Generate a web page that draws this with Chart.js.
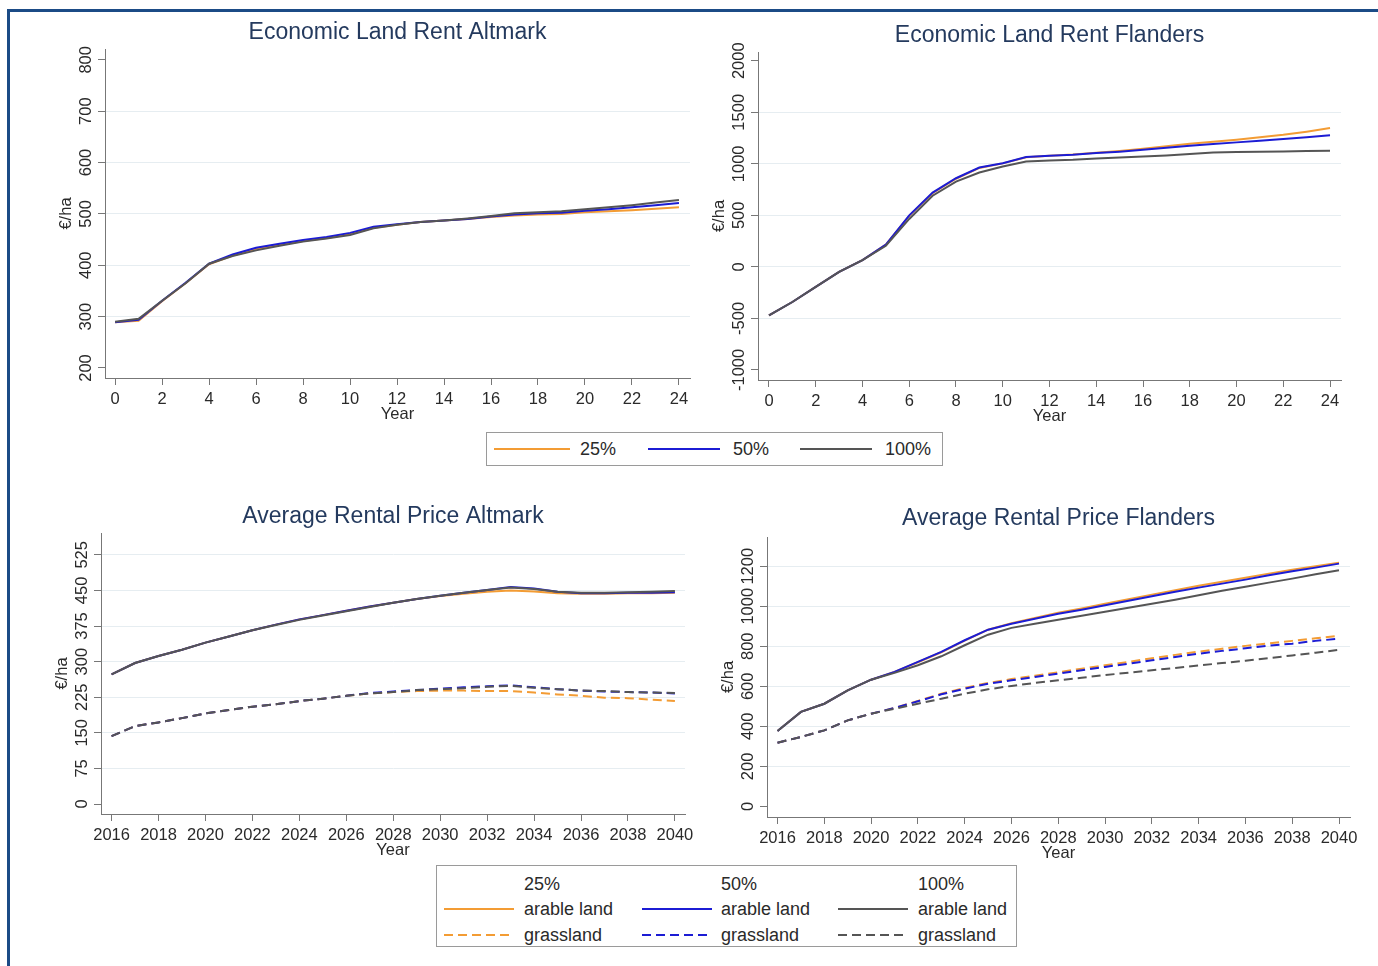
<!DOCTYPE html>
<html>
<head>
<meta charset="utf-8">
<script src="https://cdn.jsdelivr.net/npm/chart.js@4.4.1/dist/chart.umd.min.js"></script>
<style>
  body { margin: 0; background: #fff; width: 1378px; height: 966px; overflow: hidden; position: relative; font-family: "Liberation Sans", Arial, sans-serif; }
  #frame { position: absolute; left: 7px; top: 9px; width: 1400px; height: 1000px; border-top: 3px solid #1b4b86; border-left: 3px solid #1b4b86; }
  canvas { position: absolute; }
  .legend { position: absolute; border: 1px solid #9a9a9a; box-sizing: border-box; background: #fff; }
  .legend span { position: absolute; font-size: 18px; line-height: 22px; color: #2a2a2a; white-space: nowrap; }
  .legend svg { position: absolute; overflow: visible; }
</style>
</head>
<body>
<div id="frame"></div>
<canvas id="c1"></canvas>
<canvas id="c2"></canvas>
<canvas id="c3"></canvas>
<canvas id="c4"></canvas>

<div class="legend" id="leg1" style="left:486px;top:432px;width:457px;height:34px;"></div>
<div class="legend" id="leg2" style="left:436px;top:865px;width:581px;height:82px;"></div>

<script>
// --- data ---
var yearsRel = [0,1,2,3,4,5,6,7,8,9,10,11,12,13,14,15,16,17,18,19,20,21,22,23,24];
var yearsCal = [2016,2017,2018,2019,2020,2021,2022,2023,2024,2025,2026,2027,2028,2029,2030,2031,2032,2033,2034,2035,2036,2037,2038,2039,2040];

var xTicksRel = [0,2,4,6,8,10,12,14,16,18,20,22,24];
var xTicksCal = [2016,2018,2020,2022,2024,2026,2028,2030,2032,2034,2036,2038,2040];
var yTicksRentAlt = [200,300,400,500,600,700,800];
var yTicksRentFla = [-1000,-500,0,500,1000,1500,2000];
var yTicksPriceAlt = [0,75,150,225,300,375,450,525];
var yTicksPriceFla = [0,200,400,600,800,1000,1200];

// Economic land rent Altmark
var rentAlt25  = [289,292,330,365,402,419,431,440,447,453,461,473,479,484,487,490,494,497,499,500,503,505,507,510,513];
var rentAlt50  = [289,294,331,366,403,421,434,442,449,455,463,475,480,484,487,490,495,499,501,502,506,509,513,517,521];
var rentAlt100 = [290,296,331,365,403,418,429,438,446,452,459,472,479,484,487,491,496,501,503,505,509,513,517,522,527];

// Economic land rent Flanders
var rentFla25  = [-471,-341,-195,-49,65,215,495,715,855,960,1004,1063,1078,1090,1108,1125,1146,1170,1195,1215,1234,1258,1282,1312,1347];
var rentFla50  = [-471,-341,-195,-49,65,215,500,721,860,964,1006,1065,1078,1088,1104,1118,1136,1155,1175,1192,1208,1224,1240,1258,1276];
var rentFla100 = [-471,-341,-195,-49,65,205,465,690,828,916,974,1023,1032,1039,1052,1060,1071,1080,1094,1110,1114,1117,1120,1124,1127];

// Average rental price Altmark
var arableAlt25  = [273,297,312,325,340,353,366,378,389,398,407,416,424,432,438,443,447,450,448,444,443,443,444,444,445];
var arableAlt50  = [273,297,312,325,340,353,366,378,389,398,407,416,424,432,439,445,451,457,454,447,444,444,445,445,446];
var arableAlt100 = [273,297,312,325,340,353,366,377,388,397,406,415,424,432,439,445,451,456,453,447,445,445,446,447,449];
var grassAlt25  = [143,164,172,181,191,198,205,210,217,222,228,233,236,238,239,239,238,238,235,231,228,224,223,220,217];
var grassAlt50  = [143,164,172,181,191,198,205,210,217,222,228,234,237,240,243,246,248,250,246,242,239,237,236,235,233];
var grassAlt100 = [143,164,172,181,191,198,205,210,217,222,228,233,236,240,242,244,247,249,245,242,239,238,236,235,234];

// Average rental price Flanders
var arableFla25  = [377,472,513,580,633,672,720,770,828,883,915,941,967,989,1012,1035,1058,1080,1102,1122,1142,1163,1182,1200,1218];
var arableFla50  = [377,472,513,580,633,672,722,772,830,883,913,938,963,983,1005,1027,1050,1072,1093,1113,1133,1155,1175,1193,1213];
var arableFla100 = [377,472,513,580,633,667,705,750,805,858,892,913,933,952,972,993,1013,1033,1055,1077,1097,1118,1138,1160,1180];
var grassFla25  = [318,347,380,430,463,492,527,563,592,617,636,653,670,688,705,722,740,757,773,788,802,815,827,840,852];
var grassFla50  = [318,347,380,430,463,492,525,560,588,613,630,647,663,680,697,713,730,747,763,777,790,803,813,827,838];
var grassFla100 = [318,347,380,430,463,488,513,538,563,585,602,617,630,643,656,668,680,692,704,716,728,741,754,768,782];

// --- styling ---
var FONT = '"Liberation Sans", Arial, sans-serif';
var ORANGE = '#f39c34', BLUE = '#1c1cd4', GRAY = '#555555';
var TXT = '#2a2a2a';
var DASH = [9, 5];

function pts(xs, ys) {
  return xs.map(function(x, i) { return { x: x, y: ys[i] }; });
}

function line(label, xs, ys, color, dashed, order) {
  return {
    label: label,
    data: pts(xs, ys),
    borderColor: color,
    backgroundColor: color,
    borderWidth: 2,
    borderDash: dashed ? DASH : [],
    pointRadius: 0,
    tension: 0,
    fill: false,
    order: order
  };
}

// rotated y tick labels, like Stata
var yLabels = {
  id: 'yLabels',
  afterDraw: function(chart) {
    var s = chart.scales.y, ctx = chart.ctx;
    ctx.save();
    ctx.font = '16.5px ' + FONT;
    ctx.fillStyle = TXT;
    ctx.textAlign = 'center';
    ctx.textBaseline = 'middle';
    s.ticks.forEach(function(t) {
      var y = s.getPixelForValue(t.value);
      ctx.save();
      ctx.translate(s.right - 19, y);
      ctx.rotate(-Math.PI / 2);
      ctx.fillText(String(t.value), 0, 0);
      ctx.restore();
    });
    ctx.restore();
  }
};

function makeChart(id, area, titleY, title, xr, xTicks, yr, yTicks, skip, datasets) {
  var cv = document.getElementById(id);
  var left = area.l - 60, top = titleY - 18;
  var w = area.r + 20 - left, h = area.b + 46 - top;
  cv.style.left = left + 'px';
  cv.style.top = top + 'px';
  cv.width = w; cv.height = h;
  cv.style.width = w + 'px'; cv.style.height = h + 'px';

  return new Chart(cv.getContext('2d'), {
    type: 'line',
    data: { datasets: datasets },
    plugins: [yLabels],
    options: {
      responsive: false,
      animation: false,
      layout: { padding: { left: 0, right: 20, top: 0, bottom: 0 } },
      plugins: {
        legend: { display: false },
        tooltip: { enabled: false },
        title: {
          display: true,
          text: title,
          fullSize: false,
          color: '#243a5e',
          font: { family: FONT, size: 23, weight: 'normal' },
          padding: { top: 4, bottom: area.t - top - 4 - 27.6 }
        }
      },
      scales: {
        x: {
          type: 'linear',
          min: xr[0], max: xr[1],
          afterBuildTicks: function(s) { s.ticks = xTicks.map(function(v) { return { value: v }; }); },
          afterFit: function(s) { s.height = 46; },
          ticks: {
            autoSkip: false, maxRotation: 0, padding: 5, color: TXT,
            font: { family: FONT, size: 16.5 },
            callback: function(v) { return String(v); }
          },
          grid: { drawOnChartArea: false, tickLength: 7, tickColor: '#777' },
          border: { color: '#777', width: 1 },
          title: { display: true, text: 'Year', color: TXT, font: { family: FONT, size: 16.5 }, padding: { top: 0, bottom: 0 } }
        },
        y: {
          min: yr[0], max: yr[1],
          afterBuildTicks: function(s) { s.ticks = yTicks.map(function(v) { return { value: v }; }); },
          afterFit: function(s) { s.width = 60; },
          ticks: { display: false },
          grid: {
            tickLength: 7, tickColor: '#777', lineWidth: 1,
            color: function(c) {
              if (c.tick && skip.indexOf(c.tick.value) >= 0) return 'rgba(0,0,0,0)';
              return '#e6edf1';
            }
          },
          border: { color: '#777', width: 1 },
          title: { display: true, text: '€/ha', color: TXT, font: { family: FONT, size: 16.5 }, padding: { top: 12, bottom: 0 } }
        }
      }
    }
  });
}

makeChart('c1', { l: 105, t: 49, r: 690, b: 378 }, 33, 'Economic Land Rent Altmark',
  [-0.43, 24.47], xTicksRel, [180.5, 821], yTicksRentAlt, [200, 800], [
    line('25%', yearsRel, rentAlt25, ORANGE, false, 3),
    line('50%', yearsRel, rentAlt50, BLUE, false, 2),
    line('100%', yearsRel, rentAlt100, GRAY, false, 1)
  ]);

makeChart('c2', { l: 758, t: 52, r: 1341, b: 380 }, 36, 'Economic Land Rent Flanders',
  [-0.47, 24.47], xTicksRel, [-1098, 2085], yTicksRentFla, [-1000, 2000], [
    line('25%', yearsRel, rentFla25, ORANGE, false, 3),
    line('50%', yearsRel, rentFla50, BLUE, false, 2),
    line('100%', yearsRel, rentFla100, GRAY, false, 1)
  ]);

makeChart('c3', { l: 101, t: 533, r: 685, b: 814 }, 517, 'Average Rental Price Altmark',
  [2015.55, 2040.43], xTicksCal, [-21, 571], yTicksPriceAlt, [0], [
    line('25% arable land', yearsCal, arableAlt25, ORANGE, false, 3),
    line('50% arable land', yearsCal, arableAlt50, BLUE, false, 2),
    line('100% arable land', yearsCal, arableAlt100, GRAY, false, 1),
    line('25% grassland', yearsCal, grassAlt25, ORANGE, true, 6),
    line('50% grassland', yearsCal, grassAlt50, BLUE, true, 5),
    line('100% grassland', yearsCal, grassAlt100, GRAY, true, 4)
  ]);

makeChart('c4', { l: 767, t: 537, r: 1350, b: 817 }, 519, 'Average Rental Price Flanders',
  [2015.55, 2040.47], xTicksCal, [-53, 1346], yTicksPriceFla, [0], [
    line('25% arable land', yearsCal, arableFla25, ORANGE, false, 3),
    line('50% arable land', yearsCal, arableFla50, BLUE, false, 2),
    line('100% arable land', yearsCal, arableFla100, GRAY, false, 1),
    line('25% grassland', yearsCal, grassFla25, ORANGE, true, 6),
    line('50% grassland', yearsCal, grassFla50, BLUE, true, 5),
    line('100% grassland', yearsCal, grassFla100, GRAY, true, 4)
  ]);

// --- legends ---
function sample(box, x1, x2, cy, color, dashed) {
  var ns = 'http://www.w3.org/2000/svg';
  var svg = document.createElementNS(ns, 'svg');
  svg.setAttribute('width', x2 - x1);
  svg.setAttribute('height', 4);
  svg.style.left = x1 + 'px';
  svg.style.top = (cy - 2) + 'px';
  var ln = document.createElementNS(ns, 'line');
  ln.setAttribute('x1', 0); ln.setAttribute('x2', x2 - x1);
  ln.setAttribute('y1', 2); ln.setAttribute('y2', 2);
  ln.setAttribute('stroke', color);
  ln.setAttribute('stroke-width', 2);
  if (dashed) ln.setAttribute('stroke-dasharray', DASH.join(' '));
  svg.appendChild(ln);
  box.appendChild(svg);
}
function text(box, x, cy, s) {
  var sp = document.createElement('span');
  sp.textContent = s;
  sp.style.left = x + 'px';
  sp.style.top = (cy - 11) + 'px';
  box.appendChild(sp);
}

var leg1 = document.getElementById('leg1');
sample(leg1, 7, 83, 16, ORANGE, false); text(leg1, 93, 16, '25%');
sample(leg1, 161, 233, 16, BLUE, false); text(leg1, 246, 16, '50%');
sample(leg1, 313, 385, 16, GRAY, false); text(leg1, 398, 16, '100%');

var leg2 = document.getElementById('leg2');
var cols = [[7, 77, 87, '25%', ORANGE], [205, 275, 284, '50%', BLUE], [401, 471, 481, '100%', GRAY]];
cols.forEach(function(c) {
  text(leg2, c[2], 18, c[3]);
  sample(leg2, c[0], c[1], 43, c[4], false); text(leg2, c[2], 43, 'arable land');
  sample(leg2, c[0], c[1], 69, c[4], true); text(leg2, c[2], 69, 'grassland');
});
</script>
</body>
</html>
